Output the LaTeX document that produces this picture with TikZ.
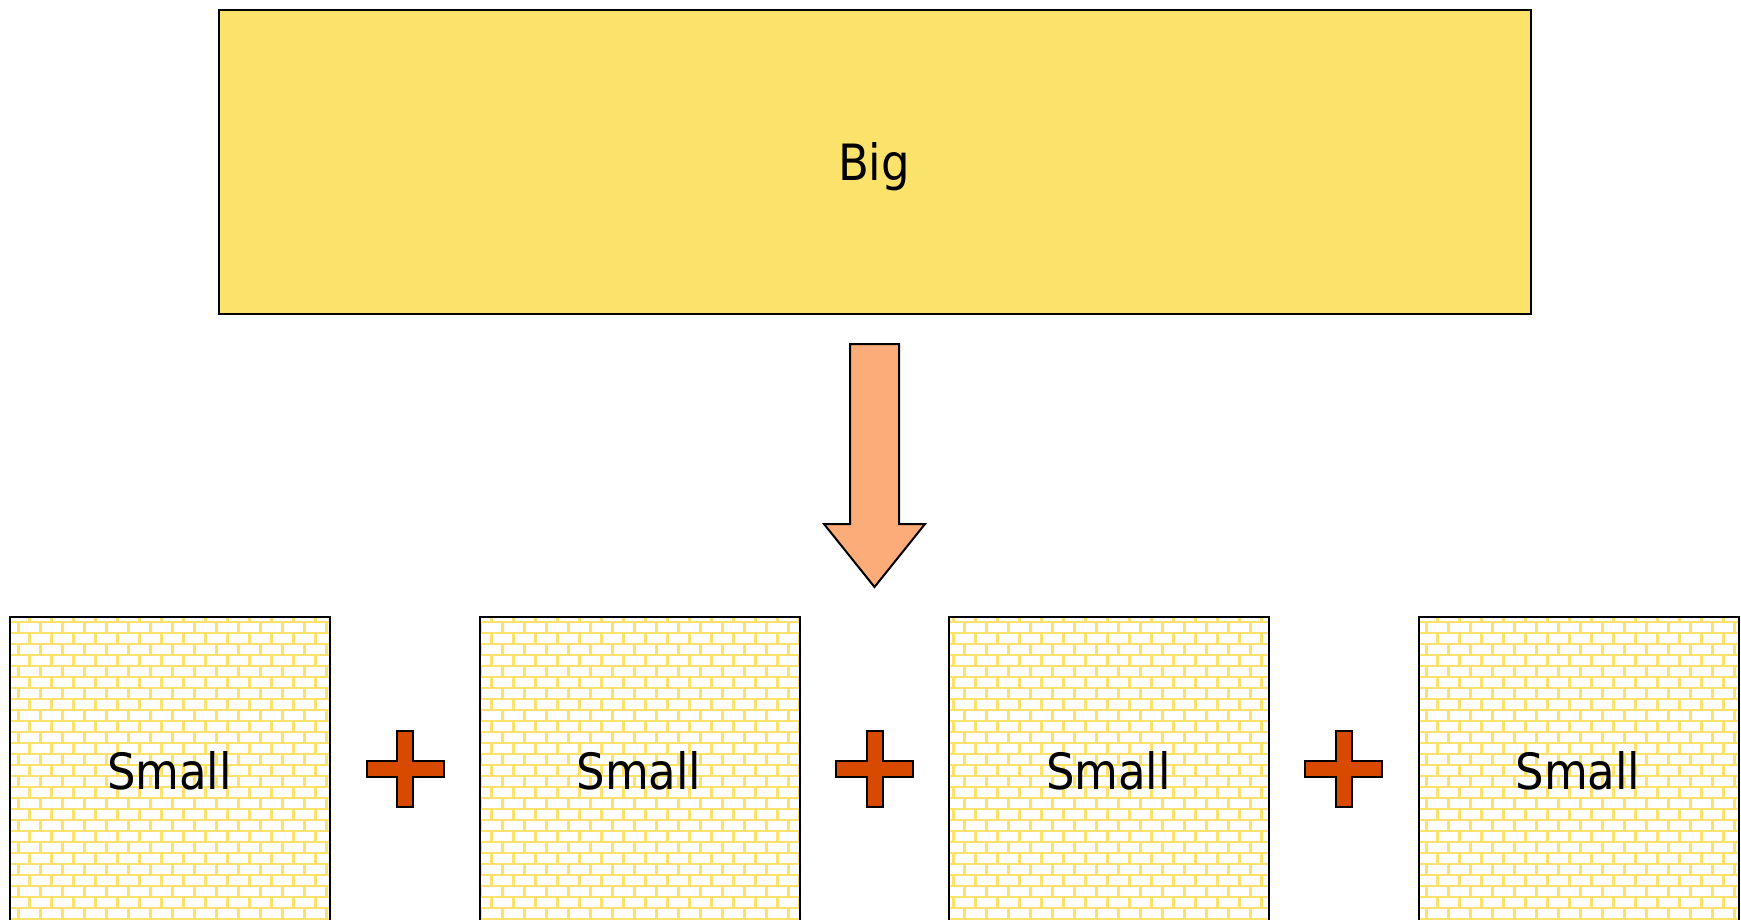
\documentclass[tikz,border=0pt]{standalone}
\usepackage{fontspec}
\setmainfont{DejaVu Sans Condensed}
\definecolor{bigfill}{RGB}{251,226,106}
\definecolor{brick}{RGB}{252,226,108}
\definecolor{arrowfill}{RGB}{252,172,120}
\definecolor{plusfill}{RGB}{216,74,0}
\tikzset{
  bigbox/.style={draw=black, line width=2pt, fill=bigfill, inner sep=0pt, outer sep=0pt, anchor=north west},
  smallbox/.style={draw=black, line width=2pt, inner sep=0pt, outer sep=0pt, anchor=north west, minimum width=320pt, minimum height=340pt},
  lbl/.style={font=\fontsize{50}{60}\selectfont, inner sep=0pt, anchor=base},
  brickline/.style={draw=brick, line width=2.6pt},
  blockarrow/.style={draw=black, line width=2pt, fill=arrowfill, line join=miter},
  plussign/.style={draw=black, line width=2pt, fill=plusfill, line join=miter}
}
\begin{document}
\begin{tikzpicture}[x=1pt, y=-1pt]
\useasboundingbox (0,0) rectangle (1741,919);
\fill[white] (0,0) rectangle (1741,919);

% big box
\node[bigbox, minimum width=1312pt, minimum height=304pt] (big) at (218.5,9.5) {};
\node[lbl] (bigtxt) at (874,180) {Big};

% small boxes (frames)
\coordinate (s1tl) at (10,616.5);
\coordinate (s2tl) at (479.5,616.5);
\coordinate (s3tl) at (949,616.5);
\coordinate (s4tl) at (1418.5,616.5);

% brick pattern
\begin{scope}
  \clip (10,616.5) rectangle ++(320,340)
        (479.5,616.5) rectangle ++(320,340)
        (949,616.5) rectangle ++(320,340)
        (1418.5,616.5) rectangle ++(320,340);
  \foreach \k in {0,...,29} {
    \draw[brickline] (0,622+11*\k) -- (1741,622+11*\k);
  }
  \foreach \r in {0,...,30} {
    \pgfmathsetmacro{\off}{isodd(\r) ? 18.3 : 7.3}
    \pgfmathsetmacro{\ya}{611+11*\r}
    \pgfmathsetmacro{\yb}{622+11*\r}
    \draw[brickline] \foreach \j in {0,...,79} {(\off+22*\j,\ya) -- (\off+22*\j,\yb)};
  }
\end{scope}

\node[smallbox] (s1) at (s1tl) {};
\node[smallbox] (s2) at (s2tl) {};
\node[smallbox] (s3) at (s3tl) {};
\node[smallbox] (s4) at (s4tl) {};

\node[lbl] (t1) at (169.5,789) {Small};
\node[lbl] (t2) at (639,789) {Small};
\node[lbl] (t3) at (1108.5,789) {Small};
\node[lbl] (t4) at (1578,789) {Small};

% block arrow
\coordinate (ac) at (874.5,344);
\draw[blockarrow] (850,344) -- (899,344) -- (899,524) -- (925,524) -- (874.5,587)
   -- (824,524) -- (850,524) -- cycle;

% plus signs
\foreach \n/\cx in {p1/405, p2/874.5, p3/1343.5} {
  \coordinate (\n) at (\cx,769);
  \draw[plussign] ([shift={(-8,-38)}]\n) -- ([shift={(8,-38)}]\n) -- ([shift={(8,-8)}]\n)
     -- ([shift={(38.5,-8)}]\n) -- ([shift={(38.5,8)}]\n) -- ([shift={(8,8)}]\n)
     -- ([shift={(8,38)}]\n) -- ([shift={(-8,38)}]\n) -- ([shift={(-8,8)}]\n)
     -- ([shift={(-38.5,8)}]\n) -- ([shift={(-38.5,-8)}]\n) -- ([shift={(-8,-8)}]\n) -- cycle;
}
\end{tikzpicture}
\end{document}
